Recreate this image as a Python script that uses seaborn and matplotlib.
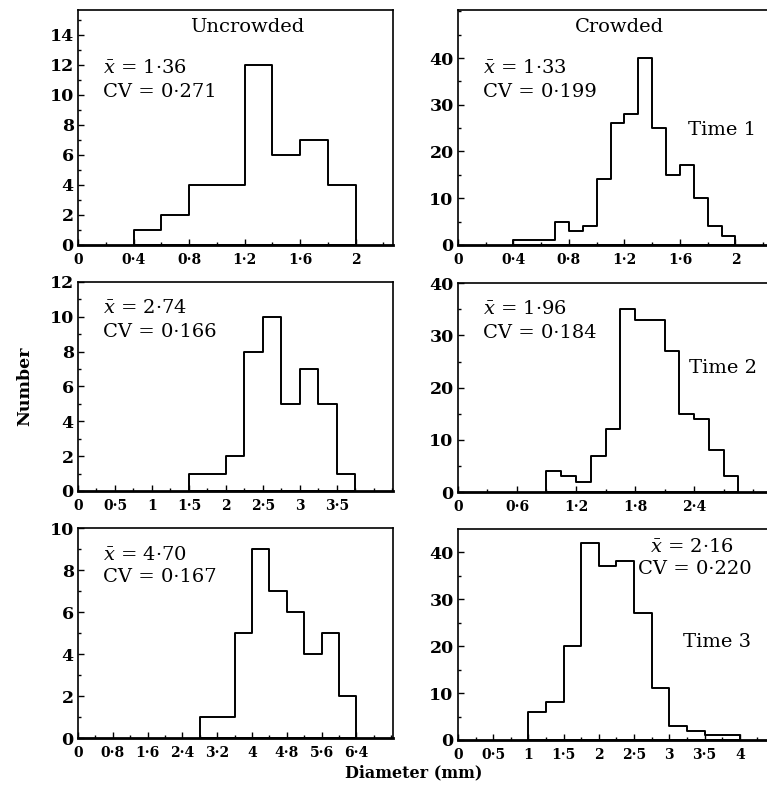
import numpy as np
import pandas as pd
import seaborn as sns
import matplotlib.pyplot as plt
from matplotlib.ticker import MultipleLocator

sns.set_style("ticks")
plt.rcParams['font.family'] = ['DejaVu Serif']
plt.rcParams['mathtext.fontset'] = 'dejavuserif'
plt.rcParams['text.color'] = 'black'

# bin edges (mm) and counts
unc1_edges = [0.4, 0.6, 0.8, 1.0, 1.2, 1.4, 1.6, 1.8, 2.0]
unc1_counts = [1, 2, 4, 4, 12, 6, 7, 4]
cro1_edges = [0.4, 0.5, 0.6, 0.7, 0.8, 0.9, 1.0, 1.1, 1.2, 1.3, 1.4, 1.5, 1.6, 1.7, 1.8, 1.9, 2.0]
cro1_counts = [1, 1, 1, 5, 3, 4, 14, 26, 28, 40, 25, 15, 17, 10, 4, 2]
unc2_edges = [1.5, 1.75, 2.0, 2.25, 2.5, 2.75, 3.0, 3.25, 3.5, 3.75]
unc2_counts = [1, 1, 2, 8, 10, 5, 7, 5, 1]
cro2_edges = [0.9, 1.05, 1.2, 1.35, 1.5, 1.65, 1.8, 1.95, 2.1, 2.25, 2.4, 2.55, 2.7, 2.85]
cro2_counts = [4, 3, 2, 7, 12, 35, 33, 33, 27, 15, 14, 8, 3]
unc3_edges = [2.8, 3.2, 3.6, 4.0, 4.4, 4.8, 5.2, 5.6, 6.0, 6.4]
unc3_counts = [1, 1, 5, 9, 7, 6, 4, 5, 2]
cro3_edges = [1.0, 1.25, 1.5, 1.75, 2.0, 2.25, 2.5, 2.75, 3.0, 3.25, 3.5, 3.75, 4.0]
cro3_counts = [6, 8, 20, 42, 37, 38, 27, 11, 3, 2, 1, 1]

# tick values and labels
x_ticks_04 = [0, 0.4, 0.8, 1.2, 1.6, 2]
x_labels_04 = ['0', '0·4', '0·8', '1·2', '1·6', '2']
x_ticks_05a = [0, 0.5, 1, 1.5, 2, 2.5, 3, 3.5]
x_labels_05a = ['0', '0·5', '1', '1·5', '2', '2·5', '3', '3·5']
x_ticks_06 = [0, 0.6, 1.2, 1.8, 2.4]
x_labels_06 = ['0', '0·6', '1·2', '1·8', '2·4']
x_ticks_08 = [0, 0.8, 1.6, 2.4, 3.2, 4, 4.8, 5.6, 6.4]
x_labels_08 = ['0', '0·8', '1·6', '2·4', '3·2', '4', '4·8', '5·6', '6·4']
x_ticks_05b = [0, 0.5, 1, 1.5, 2, 2.5, 3, 3.5, 4]
x_labels_05b = ['0', '0·5', '1', '1·5', '2', '2·5', '3', '3·5', '4']
y_ticks_14 = [0, 2, 4, 6, 8, 10, 12, 14]
y_ticks_12 = [0, 2, 4, 6, 8, 10, 12]
y_ticks_10 = [0, 2, 4, 6, 8, 10]
y_ticks_40 = [0, 10, 20, 30, 40]

panels = [
    # edges, counts, rect, xlim, ylim, xticks, xlabels, xminor, yticks, yminor, mean, cv
    (unc1_edges, unc1_counts, [0.1017, 0.690, 0.4107, 0.2975], 2.27, 15.67,
     x_ticks_04, x_labels_04, 0.2, y_ticks_14, 1, '1·36', '0·271'),
    (cro1_edges, cro1_counts, [0.597, 0.690, 0.4107, 0.2975], 2.27, 50.3,
     x_ticks_04, x_labels_04, 0.2, y_ticks_40, 5, '1·33', '0·199'),
    (unc2_edges, unc2_counts, [0.1017, 0.3785, 0.4107, 0.2646], 4.26, 12,
     x_ticks_05a, x_labels_05a, 0.25, y_ticks_12, 1, '2·74', '0·166'),
    (cro2_edges, cro2_counts, [0.597, 0.377, 0.4107, 0.2646], 3.2, 40,
     x_ticks_06, x_labels_06, 0.3, y_ticks_40, 5, '1·96', '0·184'),
    (unc3_edges, unc3_counts, [0.1017, 0.0658, 0.4107, 0.2658], 7.24, 10,
     x_ticks_08, x_labels_08, 0.4, y_ticks_10, 1, '4·70', '0·167'),
    (cro3_edges, cro3_counts, [0.597, 0.0633, 0.4107, 0.267], 4.47, 44.9,
     x_ticks_05b, x_labels_05b, 0.25, y_ticks_40, 5, '2·16', '0·220'),
]

fig = plt.figure(figsize=(7.67, 7.90), dpi=100)
axes = []
for edges, counts, rect, xmax, ymax, xt, xl, xminor, yt, yminor, mean, cv in panels:
    ax = fig.add_axes(rect)
    e = np.array(edges)
    df = pd.DataFrame({'d': (e[:-1] + e[1:]) / 2, 'n': counts})
    sns.histplot(data=df, x='d', weights='n', bins=list(edges), element='step',
                 fill=True, color='black', facecolor=(1, 1, 1, 0), edgecolor='black',
                 linewidth=1.4, ax=ax)
    ax.set_xlim(0, xmax)
    ax.set_ylim(0, ymax)
    ax.set_xticks(xt)
    ax.set_xticklabels(xl, fontsize=10, fontweight='bold')
    ax.xaxis.set_minor_locator(MultipleLocator(xminor))
    ax.set_yticks(yt)
    ax.set_yticklabels([str(v) for v in yt], fontsize=12.5, fontweight='bold')
    ax.yaxis.set_minor_locator(MultipleLocator(yminor))
    ax.tick_params(which='both', direction='in', width=1, colors='black', pad=3)
    ax.tick_params(axis='x', which='both', pad=5.5)
    ax.tick_params(which='major', length=4)
    ax.tick_params(which='minor', length=2.5)
    ax.set_xlabel('')
    ax.set_ylabel('')
    for s in ax.spines.values():
        s.set_visible(True)
        s.set_color('black')
        s.set_linewidth(1.2)
    ax.spines['bottom'].set_linewidth(2)
    axes.append((ax, mean, cv))

tfs = 14
# annotations
for i, (ax, mean, cv) in enumerate(axes):
    if i < 5:
        if i < 2:
            y1, y2 = 0.753, 0.651
        elif i < 4:
            y1, y2 = 0.876, 0.761
        else:
            y1, y2 = 0.871, 0.767
        ax.text(0.08, y1, r'$\bar{x}$ = ' + mean, transform=ax.transAxes,
                fontsize=tfs, va='center', ha='left')
        ax.text(0.08, y2, 'CV = ' + cv, transform=ax.transAxes,
                fontsize=tfs, va='center', ha='left')
    else:
        ax.text(0.61, 0.915, r'$\bar{x}$ = ' + mean, transform=ax.transAxes,
                fontsize=tfs, va='center', ha='left')
        ax.text(0.571, 0.81, 'CV = ' + cv, transform=ax.transAxes,
                fontsize=tfs, va='center', ha='left')

axes[0][0].text(0.537, 0.928, 'Uncrowded', transform=axes[0][0].transAxes,
                fontsize=tfs, ha='center', va='center')
axes[1][0].text(0.514, 0.928, 'Crowded', transform=axes[1][0].transAxes,
                fontsize=tfs, ha='center', va='center')
axes[1][0].text(0.838, 0.49, 'Time 1', transform=axes[1][0].transAxes,
                fontsize=tfs, ha='center', va='center')
axes[3][0].text(0.84, 0.593, 'Time 2', transform=axes[3][0].transAxes,
                fontsize=tfs, ha='center', va='center')
axes[5][0].text(0.822, 0.464, 'Time 3', transform=axes[5][0].transAxes,
                fontsize=tfs, ha='center', va='center')

fig.text(25 / 767, 1 - 386 / 790, 'Number', rotation=90, fontsize=12.5,
         fontweight='bold', ha='center', va='center')
fig.text(414 / 767, 1 - 773 / 790, 'Diameter (mm)', fontsize=11.5,
         fontweight='bold', ha='center', va='center')

fig.savefig('out.png', dpi=100, facecolor='white')
